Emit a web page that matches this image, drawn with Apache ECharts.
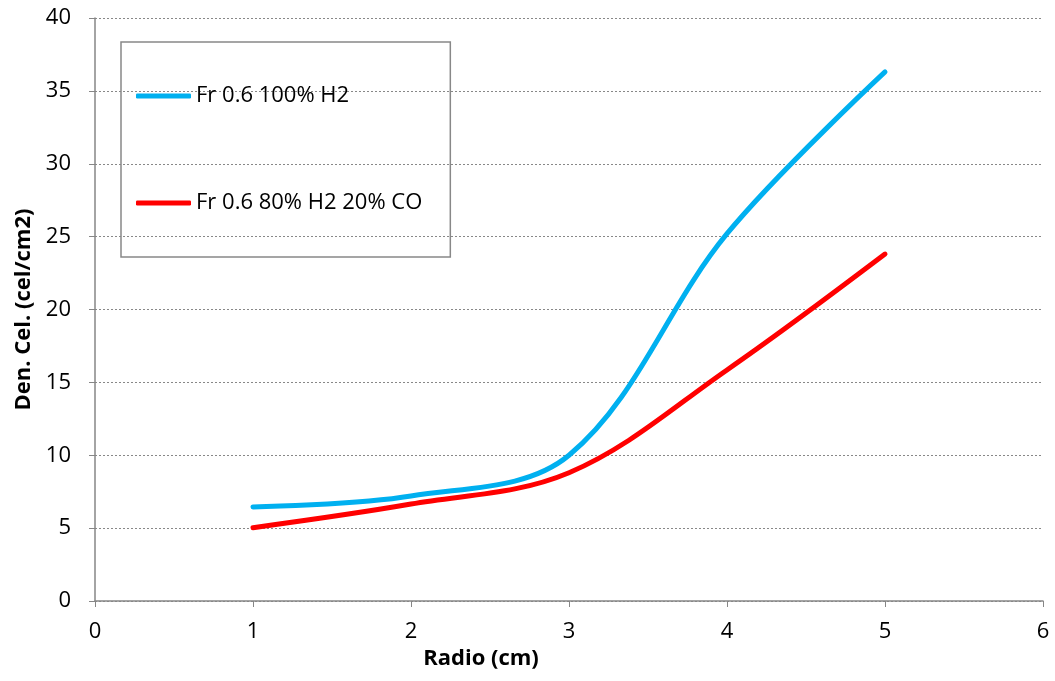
<!DOCTYPE html>
<html>
<head>
<meta charset="utf-8">
<script src="https://cdn.jsdelivr.net/npm/echarts@6/dist/echarts.min.js"></script>
<style>html,body{margin:0;padding:0;background:#fff;}#c{width:1055px;height:681px;}</style>
</head>
<body>
<div id="c"></div>
<script>
const radio = [1, 2, 3, 4, 5];
const h2_100 = [6.45, 7.2, 10.0, 25.2, 36.3];
const h2_80_co_20 = [5.03, 6.65, 8.8, 15.85, 23.8];
const seriesNames = ['Fr 0.6 100% H2', 'Fr 0.6 80% H2 20% CO'];
const xTitle = 'Radio (cm)';
const yTitle = 'Den. Cel. (cel/cm2)';

const font = '"Open Sans", "Noto Sans", sans-serif';
const chart = echarts.init(document.getElementById('c'), null, {renderer: 'canvas'});
const pair = (xs, ys) => xs.map((x, i) => [x, ys[i]]);

chart.setOption({
  animation: false,
  backgroundColor: '#fff',
  textStyle: {fontFamily: font},
  grid: {left: 95, right: 12, top: 18, bottom: 80, containLabel: false},
  legend: {
    left: 121, top: 42,
    orient: 'vertical',
    data: seriesNames,
    itemWidth: 55, itemHeight: 5,
    itemGap: 83,
    padding: [42, 28, 42, 15],
    borderColor: '#888', borderWidth: 1.5,
    icon: 'roundRect',
    textStyle: {fontFamily: font, fontSize: 22, lineHeight: 24, color: '#000'}
  },
  xAxis: {
    type: 'value', min: 0, max: 6, interval: 1,
    name: xTitle, nameLocation: 'middle', nameGap: 47,
    nameTextStyle: {fontFamily: font, fontSize: 22, fontWeight: 'bold', color: '#000', padding: [0, 176, 0, 0]},
    axisLine: {show: true, lineStyle: {color: '#868686', width: 1.5}},
    axisTick: {show: true, inside: false, length: 6, lineStyle: {color: '#868686'}},
    axisLabel: {fontFamily: font, fontSize: 22, color: '#000', margin: 20},
    splitLine: {show: false}
  },
  yAxis: {
    type: 'value', min: 0, max: 40, interval: 5,
    name: yTitle, nameLocation: 'middle', nameGap: 60, nameRotate: 90,
    nameTextStyle: {fontFamily: font, fontSize: 22, fontWeight: 'bold', color: '#000'},
    axisLine: {show: true, lineStyle: {color: '#868686', width: 1.5}},
    axisTick: {show: true, inside: false, length: 6, lineStyle: {color: '#868686'}},
    axisLabel: {fontFamily: font, fontSize: 22, color: '#000', margin: 24},
    splitLine: {show: true, lineStyle: {color: '#888', type: [2, 2], width: 1}}
  },
  series: [
    {name: seriesNames[0], type: 'line', data: pair(radio, h2_100), smooth: 0.35, showSymbol: false,
     lineStyle: {color: '#00B0F0', width: 5, cap: 'round'}, itemStyle: {color: '#00B0F0'}},
    {name: seriesNames[1], type: 'line', data: pair(radio, h2_80_co_20), smooth: 0.35, showSymbol: false,
     lineStyle: {color: '#FF0000', width: 5, cap: 'round'}, itemStyle: {color: '#FF0000'}}
  ]
});
</script>
</body>
</html>
